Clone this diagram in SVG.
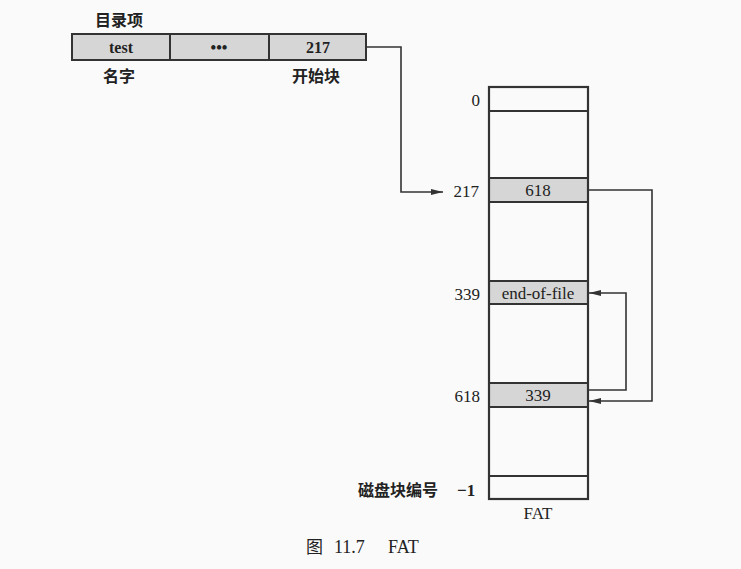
<svg xmlns="http://www.w3.org/2000/svg" width="741" height="569" viewBox="0 0 741 569">
<defs>
<marker id="ah" viewBox="0 0 12 6" refX="12" refY="3" markerWidth="12" markerHeight="6" markerUnits="userSpaceOnUse" orient="auto">
<path d="M0,0 L12,3 L0,6 Z" fill="#333"/>
</marker>
<style>
.cell{fill:#d6d6d6;stroke:#333;stroke-width:2}
.tab{fill:none;stroke:#333;stroke-width:2.2}
.row{stroke:#333;stroke-width:2}
.sh{fill:#d6d6d6;stroke:#333;stroke-width:2}
.cn{font-family:"Noto Sans CJK SC",sans-serif;font-size:16px;fill:#222;font-weight:bold}
.num{font-family:"Liberation Serif",serif;font-size:17px;fill:#222}
.bnum{font-family:"Liberation Serif",serif;font-size:16px;fill:#222;font-weight:bold}
.conn{fill:none;stroke:#333;stroke-width:1.6}
</style>
</defs>
<rect width="741" height="569" fill="#fafafa"/>
<g id="dir-entry">
<text class="cn" x="95" y="26">目录项</text>
<rect class="cell" x="72" y="34" width="294" height="26"/>
<line class="row" x1="170" y1="34" x2="170" y2="60"/>
<line class="row" x1="269" y1="34" x2="269" y2="60"/>
<text class="bnum" x="121" y="53" text-anchor="middle">test</text>
<text class="bnum" x="219" y="53" text-anchor="middle">•••</text>
<text class="bnum" x="318" y="53" text-anchor="middle">217</text>
<text class="cn" x="103" y="82">名字</text>
<text class="cn" x="292" y="82" font-size="17">开始块</text>
</g>
<g id="fat">
<rect class="sh" x="489" y="178" width="99" height="24"/>
<rect class="sh" x="489" y="281" width="99" height="23"/>
<rect class="sh" x="489" y="383" width="99" height="24"/>
<rect class="tab" x="489" y="87" width="99" height="412"/>
<line class="row" x1="489" y1="111" x2="588" y2="111"/>
<line class="row" x1="489" y1="476" x2="588" y2="476"/>
<text class="num" x="538" y="196" text-anchor="middle">618</text>
<text class="num" x="538" y="299" text-anchor="middle">end-of-file</text>
<text class="num" x="538" y="401" text-anchor="middle">339</text>
<text class="num" x="480" y="106" text-anchor="end">0</text>
<text class="num" x="479" y="197" text-anchor="end">217</text>
<text class="num" x="480" y="300" text-anchor="end">339</text>
<text class="num" x="480" y="402" text-anchor="end">618</text>
<text class="cn" x="358" y="496" font-size="15.5">磁盘块编号</text>
<text class="num" x="457" y="496" font-weight="bold">−1</text>
<text class="num" x="538" y="519" text-anchor="middle" font-size="18">FAT</text>
</g>
<g id="connectors">
<path class="conn" d="M366,47 H401 V192 H443" marker-end="url(#ah)"/>
<path class="conn" d="M588,190 H652 V401 H589" marker-end="url(#ah)"/>
<path class="conn" d="M588,390 H626 V293 H589" marker-end="url(#ah)"/>
</g>
<g id="caption">
<text x="306" y="553" font-family="Noto Sans CJK SC,sans-serif" font-size="17" fill="#222">图</text>
<text x="334" y="553" font-family="Liberation Serif,serif" font-size="18" fill="#222">11.7</text>
<text x="388" y="553" font-family="Liberation Serif,serif" font-size="18" fill="#222">FAT</text>
</g>
</svg>
